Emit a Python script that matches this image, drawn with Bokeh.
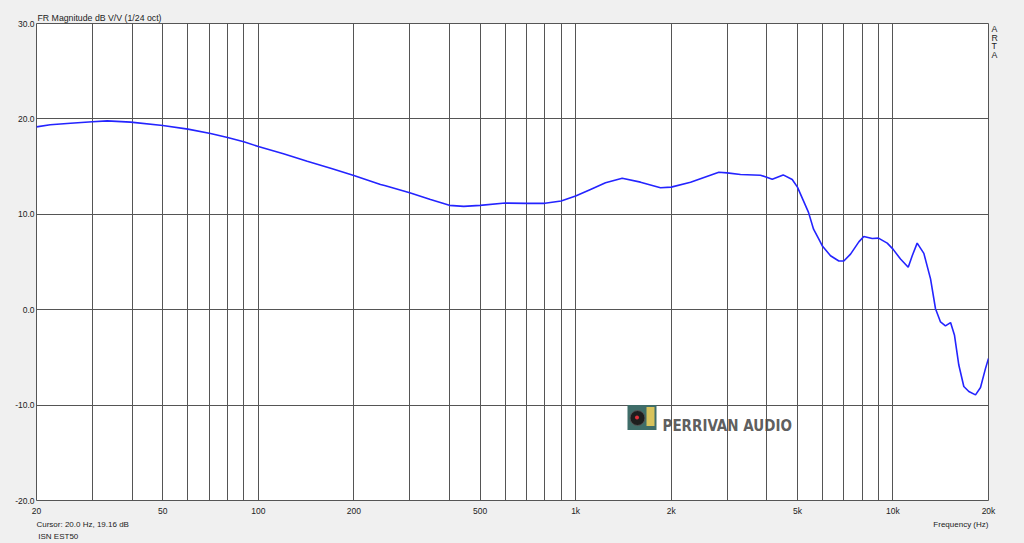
from bokeh.plotting import figure
from bokeh.models import (Label, FixedTicker, PrintfTickFormatter, ColumnDataSource,
                          Range1d, LinearAxis, LinearScale)
from bokeh.embed import file_html
from bokeh.resources import INLINE

# ---- data ----
freq_hz = [20, 22.1, 25.6, 30, 33.4, 39.6, 50, 60, 70.7, 80, 90, 100, 120, 142.6, 170,
           200, 242.7, 250, 300, 348.8,
           400, 444, 500, 600, 700, 800, 900, 1000, 1114, 1242, 1402, 1601, 1851, 2000,
           2302, 2826, 3000, 3308, 3824, 4000, 4164, 4508, 4814, 5000, 5418, 5620, 5840,
           6000, 6356, 6752, 7000, 7350, 7806, 8092, 8602, 9000, 9592, 10000, 10562, 11170,
           11500, 11920, 12512, 13134, 13616, 14120, 14636, 15186, 15628, 16124, 16720,
           17340, 18200, 18874, 19572, 20000]
level_db = [19.16, 19.38, 19.55, 19.70, 19.79, 19.66, 19.30, 18.93, 18.47, 18.05, 17.60,
            17.11, 16.35, 15.55, 14.79, 14.06, 13.13, 13.02, 12.26, 11.56,
            10.94, 10.83, 10.94, 11.18, 11.15, 11.15, 11.39, 11.91,
            12.60, 13.30, 13.78, 13.37, 12.78, 12.85, 13.37, 14.41, 14.34, 14.17, 14.10,
            13.89, 13.68, 14.13, 13.65, 12.85, 10.20, 8.44, 7.40, 6.64, 5.66, 5.10, 5.10,
            5.83, 7.11, 7.67, 7.47, 7.50, 6.98, 6.35, 5.31, 4.45, 5.66, 6.98, 5.90, 3.23,
            0.10, -1.28, -1.70, -1.35, -2.68, -5.80, -8.05, -8.57, -8.93, -8.16, -6.15,
            -5.10]

x_label_ticks = [20, 50, 100, 200, 500, 1000, 2000, 5000, 10000, 20000]
x_label_texts = ["20", "50", "100", "200", "500", "1k", "2k", "5k", "10k", "20k"]
x_grid_ticks = [30, 40, 50, 60, 70, 80, 90, 100, 200, 300, 400, 500, 600, 700, 800, 900,
                1000, 2000, 3000, 4000, 5000, 6000, 7000, 8000, 9000, 10000]
y_ticks = [-20, -10, 0, 10, 20, 30]

title_text = "FR Magnitude dB V/V (1/24 oct)"
cursor_text = "Cursor: 20.0 Hz, 19.16 dB"
device_text = "ISN EST50"
xlabel_text = "Frequency (Hz)"
side_letters = ["A", "R", "T", "A"]
watermark_text = "PERRIVAN  AUDIO"

BG = "#f0f0f0"
GRID = "#555555"
TXT = "#222222"
FONT = "Liberation Sans"

p = figure(width=1024, height=543, x_axis_type="log",
           x_range=(20, 20000), y_range=(-20, 30),
           output_backend="svg", toolbar_location=None,
           min_border_left=36, min_border_right=36,
           min_border_top=23, min_border_bottom=40)
p.background_fill_color = "white"
p.border_fill_color = BG
p.outline_line_color = GRID
p.outline_line_width = 1

# title
p.title.text = title_text
p.title.align = "left"
p.title.offset = 1
p.title.standoff = 1
p.title.text_font = FONT
p.title.text_font_size = "8.75px"
p.title.text_font_style = "normal"
p.title.text_color = TXT


def style_axis(ax, size="8.5px", standoff=2):
    ax.axis_line_color = None
    ax.major_tick_line_color = None
    ax.minor_tick_line_color = None
    ax.major_tick_out = 0
    ax.major_tick_in = 0
    ax.major_label_text_font = FONT
    ax.major_label_text_font_size = size
    ax.major_label_text_color = TXT
    ax.major_label_standoff = standoff


# main axes
xa = p.xaxis[0]
xa.ticker = FixedTicker(ticks=x_label_ticks)
xa.major_label_overrides = {t: s for t, s in zip(x_label_ticks, x_label_texts)}
style_axis(xa, standoff=5)
ya = p.yaxis[0]
ya.ticker = FixedTicker(ticks=y_ticks)
ya.formatter = PrintfTickFormatter(format="%.1f")
style_axis(ya, standoff=2)

# pixel-space helper ranges (linear) for the captions around the frame
p.extra_x_ranges = {"px": Range1d(36, 988)}
p.extra_x_scales = {"px": LinearScale()}
p.extra_y_ranges = {"py": Range1d(503, 23)}
p.extra_y_scales = {"py": LinearScale()}

# "Cursor ..." and "Frequency (Hz)" row
cap1_pos = [82.2, 960.4]
cap1 = LinearAxis(x_range_name="px", ticker=FixedTicker(ticks=cap1_pos))
cap1.major_label_overrides = {cap1_pos[0]: cursor_text, cap1_pos[1]: xlabel_text}
style_axis(cap1, size="8px", standoff=1)
p.add_layout(cap1, "below")

# device row
cap2_pos = [57.8]
cap2 = LinearAxis(x_range_name="px", ticker=FixedTicker(ticks=cap2_pos))
cap2.major_label_overrides = {cap2_pos[0]: device_text}
style_axis(cap2, size="8px", standoff=0)
p.add_layout(cap2, "below")

# "ARTA" stacked at right
side_pos = [29, 37.5, 46, 54.5]
side = LinearAxis(y_range_name="py", ticker=FixedTicker(ticks=side_pos))
side.major_label_overrides = {v: s for v, s in zip(side_pos, side_letters)}
style_axis(side, size="8.75px", standoff=3)
p.add_layout(side, "right")

# grids
p.xgrid[0].ticker = FixedTicker(ticks=x_grid_ticks)
p.ygrid[0].ticker = FixedTicker(ticks=y_ticks)
for g in (p.xgrid[0], p.ygrid[0]):
    g.grid_line_color = GRID
    g.grid_line_width = 1
    g.grid_line_alpha = 1.0

# watermark logo (decoration, placed in the pixel helper ranges)
p.rect(x=[641.5], y=[419.5], width=29, height=25, width_units="screen",
       height_units="screen", fill_color="#3f6d69", line_color=None,
       x_range_name="px", y_range_name="py")
p.rect(x=[650], y=[418.5], width=8, height=19, width_units="screen",
       height_units="screen", fill_color="#d8c35c", line_color=None,
       x_range_name="px", y_range_name="py")
p.scatter(x=[637], y=[420], size=15, fill_color="#1e1e1e", line_color="#555555",
          x_range_name="px", y_range_name="py")
p.scatter(x=[636.5], y=[419.5], size=4, fill_color="#e0303a", line_color=None,
          x_range_name="px", y_range_name="py")
p.add_layout(Label(x=662, y=428, x_range_name="px", y_range_name="py",
                   text=watermark_text,
                   text_font="Liberation Sans Narrow, DejaVu Sans Condensed, Liberation Sans, sans-serif",
                   text_font_style="bold", text_font_size="15px",
                   text_color="#4a4a4a", text_alpha=0.9, text_baseline="alphabetic"))

# response curve
src = ColumnDataSource(data=dict(f=freq_hz, db=level_db))
p.line("f", "db", source=src, line_color="#2424ff", line_width=1.6)

html = file_html(p, INLINE)
html = html.replace("</head>", "<style>body{background:#f0f0f0;}</style></head>", 1)
open("out.html", "w").write(html)
